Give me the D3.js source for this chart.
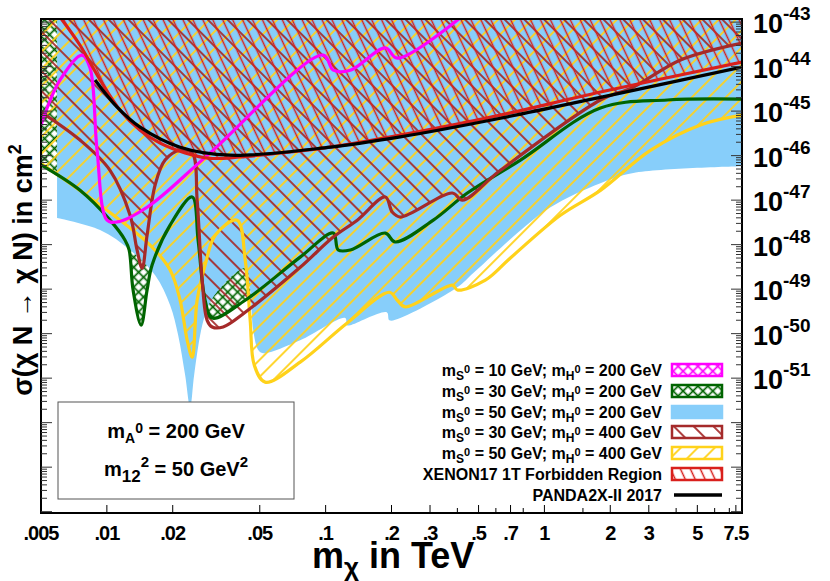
<!DOCTYPE html>
<html>
<head>
<meta charset="utf-8">
<script src="https://cdnjs.cloudflare.com/ajax/libs/d3/7.8.5/d3.min.js"></script>
<style>
  body { margin: 0; background: #fff; }
  text { font-family: "Liberation Sans Narrow", "Liberation Sans", Arial, sans-serif; font-weight: bold; }
</style>
</head>
<body>
<script>
// masses in TeV, cross sections as log10(sigma / cm^2)
const magentaX = [.005, .00611, .0077, .00838, .00902, .01002, .01114, .01527, .02873, .0975, .1084, .1296, .1874, .2126, .413];
const magentaY = [-45.31, -44.3, -43.74, -44.03, -45.88, -47.45, -47.49, -47.16, -46.0, -43.74, -44.08, -44.08, -43.58, -43.81, -42.9];

const greenX = [.005, .00754, .01034, .01211, .01264, .01318, .01434, .01527, .0161, .01946, .02455, .02613, .02813, .0303, .0429, .0765, .1084, .1142, .1296, .1874, .208, .3105, .4443, .777, 1.803, 3.65, 8];
const greenY = [-46.21, -46.78, -47.45, -47.9, -48.12, -49.02, -49.81, -49.02, -48.46, -47.56, -46.93, -47.9, -49.25, -49.65, -49.25, -48.28, -47.74, -48.12, -48.12, -47.74, -47.94, -47.45, -46.84, -46.1, -44.93, -44.75, -44.73];

const blueX = [.00592, .00931, .01277, .01662, .01946, .02117, .02279, .02403, .02506, .0267, .02813, .0306, .0429, .0452, .04665, .0492, .0518, .0765, .123, .1249, .1296, .1902, .1955, .2194, .4, .4732, .752, 1.066, 1.803, 2.55, 8];
const blueY = [-47.4, -47.67, -48.12, -48.69, -49.36, -50.03, -50.93, -51.65, -50.93, -50.03, -49.58, -49.18, -48.53, -49.02, -49.92, -50.37, -50.44, -50.15, -49.65, -49.81, -49.81, -49.52, -49.7, -49.65, -48.96, -48.64, -47.74, -47.16, -46.62, -46.39, -46.24];

const brownX = [.005, .00754, .01034, .01277, .01374, .01449, .01527, .01662, .01845, .02162, .02455, .02586, .02726, .02873, .0303, .034, .0429, .0765, .1084, .1395, .1874, .2017, .2194, .3795, .4216, .629, 1.803, 2.55, 4.19, 8];
const brownY = [-45.02, -45.65, -46.33, -47.34, -48.12, -48.53, -47.79, -46.66, -46.1, -45.88, -45.94, -47.0, -48.8, -49.7, -49.85, -49.85, -49.52, -48.51, -47.83, -47.45, -46.93, -47.27, -47.38, -46.84, -47.0, -46.33, -44.75, -44.46, -43.85, -43.47];

const goldX = [.005, .00931, .01576, .01946, .02162, .02329, .02455, .02586, .02813, .0313, .0394, .0429, .0452, .0472, .0529, .0765, .1255, .1955, .2126, .2313, .3795, .4, .537, .699, 1.183, 1.803, 3.05, 5.17, 8];
const goldY = [-46.17, -47.11, -48.01, -48.57, -49.25, -50.15, -50.53, -49.25, -48.46, -47.79, -47.45, -48.35, -49.7, -50.71, -51.09, -50.64, -49.76, -49.07, -49.25, -49.4, -48.91, -49.02, -48.8, -48.3, -47.34, -46.78, -45.88, -45.31, -45.09];

const xenonX = [.0062, .00754, .00931, .01149, .01419, .01752, .02279, .02966, .0407, .062, .105, .2194, .629, 1.803, 8];
const xenonY = [-42.93, -43.52, -44.3, -44.98, -45.43, -45.72, -45.94, -46.06, -46.03, -45.94, -45.81, -45.54, -45.09, -44.57, -43.9];

const pandaX = [.00883, .01114, .01419, .02162, .0366, .105, .2194, .629, 1.803, 8];
const pandaY = [-44.3, -44.91, -45.36, -45.81, -45.99, -45.81, -45.58, -45.16, -44.69, -44.01];

const xTickVals = [.005, .01, .02, .05, .1, .2, .3, .5, .7, 1, 2, 3, 5, 7.5];
const xTickText = [".005", ".01", ".02", ".05", ".1", ".2", ".3", ".5", ".7", "1", "2", "3", "5", "7.5"];
const xMinorVals = [.4, .6, .8, 1.5, 4, 6, 7];
const yDecades = [-43, -44, -45, -46, -47, -48, -49, -50, -51];

const legendLabels = [
  ["10", "200"], ["30", "200"], ["50", "200"], ["30", "400"], ["50", "400"]
];

const W = 830, H = 581;
const svg = d3.select("body").append("svg").attr("width", W).attr("height", H);

const x = d3.scaleLog().domain([0.005, 8]).range([41, 742]);
const y = d3.scaleLinear().domain([-54.03, -42.93]).range([513, 19]);

// patterns
const defs = svg.append("defs");
function hatch(id, size, angle, color, sw, cross) {
  const p = defs.append("pattern").attr("id", id)
    .attr("patternUnits", "userSpaceOnUse")
    .attr("width", size).attr("height", size)
    .attr("patternTransform", `rotate(${angle})`);
  p.append("line").attr("x1", size / 2).attr("x2", size / 2).attr("y1", 0).attr("y2", size)
    .attr("stroke", color).attr("stroke-width", sw);
  if (cross) p.append("line").attr("y1", size / 2).attr("y2", size / 2).attr("x1", 0).attr("x2", size)
    .attr("stroke", color).attr("stroke-width", sw);
}
hatch("goldH", 12, 45, "#ffd21a", 1.8);
hatch("brownH", 14, -45, "#a52a2a", 1.8);
hatch("redH", 9, -25, "#d9201c", 1.5);
hatch("greenX", 7, 45, "#006400", 1.7, true);
hatch("magX", 7, 45, "#ff00ff", 1.7, true);

defs.append("clipPath").attr("id", "plotClip").append("rect")
  .attr("x", 41).attr("y", 19).attr("width", 701).attr("height", 494);

const g = svg.append("g").attr("clip-path", "url(#plotClip)");
const curve = d3.curveCatmullRom.alpha(0.5);
const zip = (xs, ys) => xs.map((v, i) => [v, ys[i]]);

function region(xs, ys, fill) {
  g.append("path").datum(zip(xs, ys))
    .attr("d", d3.area().curve(curve).x(d => x(d[0])).y0(0).y1(d => y(d[1])))
    .attr("fill", fill);
}
function outline(xs, ys, color, w) {
  g.append("path").datum(zip(xs, ys))
    .attr("d", d3.line().curve(curve).x(d => x(d[0])).y(d => y(d[1])))
    .attr("fill", "none").attr("stroke", color).attr("stroke-width", w)
    .attr("stroke-linejoin", "round");
}

region(greenX, greenY, "url(#greenX)");
region(blueX, blueY, "#87cefa");
region(goldX, goldY, "url(#goldH)");
region(brownX, brownY, "url(#brownH)");
region(xenonX, xenonY, "url(#redH)");

outline(goldX, goldY, "#ffd21a", 3.2);
outline(greenX, greenY, "#006400", 3.2);
outline(brownX, brownY, "#a52a2a", 3.2);
outline(magentaX, magentaY, "#ff00ff", 3.2);
outline(xenonX, xenonY, "#d9201c", 3.2);
outline(pandaX, pandaY, "#000", 3.2);

// frame
svg.append("rect").attr("x", 41).attr("y", 19).attr("width", 701).attr("height", 494)
  .attr("fill", "none").attr("stroke", "#000").attr("stroke-width", 2);

// x ticks
svg.selectAll(".xt").data(xTickVals.concat(xMinorVals)).join("line")
  .attr("x1", d => x(d)).attr("x2", d => x(d)).attr("y1", 513).attr("y2", d => xTickVals.includes(d) ? 505 : 508)
  .attr("stroke", "#000").attr("stroke-width", 1);
svg.selectAll(".xl").data(xTickVals).join("text")
  .attr("x", d => x(d)).attr("y", 540).attr("text-anchor", "middle")
  .style("font-size", "20px").style("letter-spacing", "-1px").text((d, i) => xTickText[i]);

// y ticks on both sides
const yTicks = [];
yDecades.concat([-52, -53, -54]).forEach(e => {
  yTicks.push({ v: e, major: true });
  for (let k = 2; k <= 9; k++) yTicks.push({ v: e + Math.log10(k), major: false });
});
const yt = yTicks.filter(t => t.v >= -54.03 && t.v <= -42.93);
svg.selectAll(".ytl").data(yt).join("line")
  .attr("x1", 41).attr("x2", d => d.major ? 52 : 47).attr("y1", d => y(d.v)).attr("y2", d => y(d.v))
  .attr("stroke", "#333").attr("stroke-width", 1);
svg.selectAll(".ytr").data(yt).join("line")
  .attr("x1", 742).attr("x2", d => d.major ? 731 : 736).attr("y1", d => y(d.v)).attr("y2", d => y(d.v))
  .attr("stroke", "#333").attr("stroke-width", 1);

const yl = svg.selectAll(".yl").data(yDecades).join("text")
  .attr("x", 753).attr("y", d => y(d) + 11).style("font-size", "27px");
yl.append("tspan").text("10");
yl.append("tspan").attr("dy", -13).style("font-size", "19px").text(d => d);

// axis titles
const xt = svg.append("text").attr("x", 312).attr("y", 568).style("font-size", "36px");
xt.append("tspan").text("m");
xt.append("tspan").attr("dy", 8).style("font-size", "26px").text("χ");
xt.append("tspan").attr("dy", -8).text("  in TeV");

const ytitle = svg.append("text").attr("transform", "translate(32,270) rotate(-90)")
  .attr("text-anchor", "middle").style("font-size", "27px");
ytitle.append("tspan").text("σ(χ N → χ N) in cm");
ytitle.append("tspan").attr("dy", -11).style("font-size", "18px").text("2");

// parameter box
svg.append("rect").attr("x", 58).attr("y", 402).attr("width", 236).attr("height", 97)
  .attr("fill", "#fff").attr("stroke", "#555").attr("stroke-width", 1);
const b1 = svg.append("text").attr("x", 176).attr("y", 438).attr("text-anchor", "middle").style("font-size", "20px");
b1.append("tspan").text("m");
b1.append("tspan").attr("dy", 5).style("font-size", "14px").text("A");
b1.append("tspan").attr("dy", -10).style("font-size", "14px").text("0");
b1.append("tspan").attr("dy", 5).text(" = 200 GeV");
const b2 = svg.append("text").attr("x", 176).attr("y", 476).attr("text-anchor", "middle").style("font-size", "20px");
b2.append("tspan").text("m");
b2.append("tspan").attr("dy", 6).style("font-size", "17px").text("12");
b2.append("tspan").attr("dy", -15).style("font-size", "15px").text("2");
b2.append("tspan").attr("dy", 9).text(" = 50 GeV");
b2.append("tspan").attr("dy", -9).style("font-size", "15px").text("2");

// legend
const swFill = ["url(#magX)", "url(#greenX)", "#87cefa", "url(#brownH)", "url(#goldH)", "url(#redH)"];
const swStroke = ["#ff00ff", "#006400", "#87cefa", "#a52a2a", "#ffd21a", "#d9201c"];
const rowY = [370, 391, 412, 432, 453, 474, 495];
legendLabels.forEach((l, i) => {
  const t = svg.append("text").attr("x", 662).attr("y", rowY[i] + 6).attr("text-anchor", "end").style("font-size", "16px");
  t.append("tspan").text("m");
  t.append("tspan").attr("dy", 4).style("font-size", "12px").text("S");
  t.append("tspan").attr("dy", -7).style("font-size", "11px").text("0");
  t.append("tspan").attr("dy", 3).text(` = ${l[0]} GeV; m`);
  t.append("tspan").attr("dy", 4).style("font-size", "12px").text("H");
  t.append("tspan").attr("dy", -7).style("font-size", "11px").text("0");
  t.append("tspan").attr("dy", 3).text(` = ${l[1]} GeV`);
});
svg.append("text").attr("x", 662).attr("y", rowY[5] + 6).attr("text-anchor", "end").style("font-size", "16px")
  .text("XENON17 1T Forbidden Region");
svg.append("text").attr("x", 662).attr("y", rowY[6] + 6).attr("text-anchor", "end").style("font-size", "16px")
  .text("PANDA2X-II 2017");
swFill.forEach((f, i) => {
  svg.append("rect").attr("x", 672).attr("y", rowY[i] - 6).attr("width", 50).attr("height", 12)
    .attr("fill", "#fff");
  svg.append("rect").attr("x", 672).attr("y", rowY[i] - 6).attr("width", 50).attr("height", 12)
    .attr("fill", f).attr("stroke", swStroke[i]).attr("stroke-width", 2.5);
});
svg.append("line").attr("x1", 674).attr("x2", 722).attr("y1", rowY[6]).attr("y2", rowY[6])
  .attr("stroke", "#000").attr("stroke-width", 3.5);
</script>
</body>
</html>
